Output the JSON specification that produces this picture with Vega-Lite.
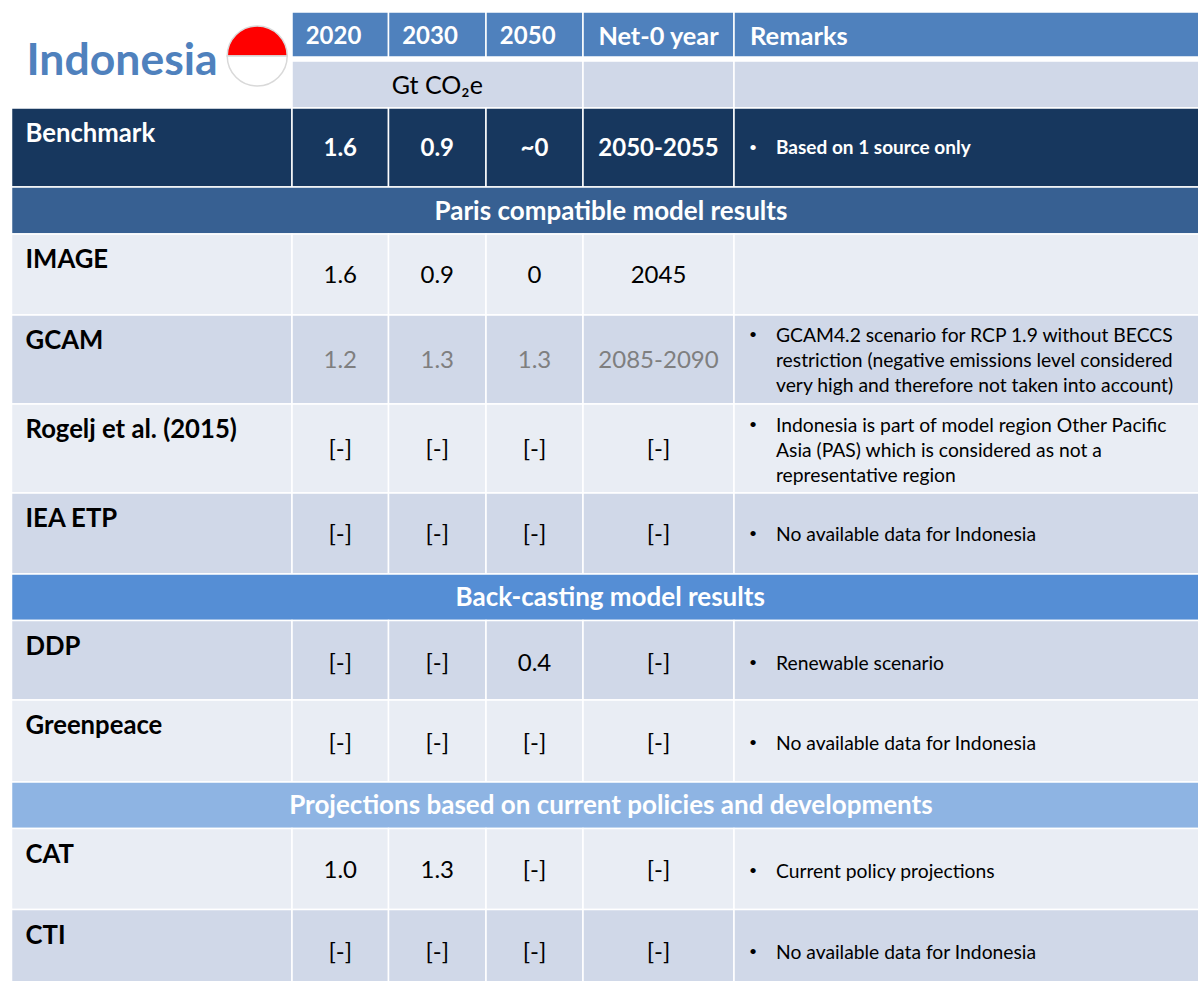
{
"$schema":"https://vega.github.io/schema/vega-lite/v6.json",
"width":1198,"height":981,"autosize":{"type":"none"},"padding":0,
"background":"white",
"config":{"view":{"stroke":null},"text":{"font":"Lato"}},
"datasets":{
"cells":[
{"row":0,"rowEnd":1,"col":1,"colEnd":2,"band":"header"},{"row":0,"rowEnd":1,"col":2,"colEnd":3,"band":"header"},{"row":0,"rowEnd":1,"col":3,"colEnd":4,"band":"header"},{"row":0,"rowEnd":1,"col":4,"colEnd":5,"band":"header"},{"row":0,"rowEnd":1,"col":5,"colEnd":6,"band":"header"},
{"row":2,"rowEnd":3,"col":1,"colEnd":4,"band":"dark"},{"row":2,"rowEnd":3,"col":4,"colEnd":5,"band":"dark"},{"row":2,"rowEnd":3,"col":5,"colEnd":6,"band":"dark"},
{"row":3,"rowEnd":4,"col":0,"colEnd":1,"band":"benchmark"},{"row":3,"rowEnd":4,"col":1,"colEnd":2,"band":"benchmark"},{"row":3,"rowEnd":4,"col":2,"colEnd":3,"band":"benchmark"},{"row":3,"rowEnd":4,"col":3,"colEnd":4,"band":"benchmark"},{"row":3,"rowEnd":4,"col":4,"colEnd":5,"band":"benchmark"},{"row":3,"rowEnd":4,"col":5,"colEnd":6,"band":"benchmark"},
{"row":4,"rowEnd":5,"col":0,"colEnd":6,"band":"paris"},
{"row":5,"rowEnd":6,"col":0,"colEnd":1,"band":"light"},{"row":5,"rowEnd":6,"col":1,"colEnd":2,"band":"light"},{"row":5,"rowEnd":6,"col":2,"colEnd":3,"band":"light"},{"row":5,"rowEnd":6,"col":3,"colEnd":4,"band":"light"},{"row":5,"rowEnd":6,"col":4,"colEnd":5,"band":"light"},{"row":5,"rowEnd":6,"col":5,"colEnd":6,"band":"light"},
{"row":6,"rowEnd":7,"col":0,"colEnd":1,"band":"dark"},{"row":6,"rowEnd":7,"col":1,"colEnd":2,"band":"dark"},{"row":6,"rowEnd":7,"col":2,"colEnd":3,"band":"dark"},{"row":6,"rowEnd":7,"col":3,"colEnd":4,"band":"dark"},{"row":6,"rowEnd":7,"col":4,"colEnd":5,"band":"dark"},{"row":6,"rowEnd":7,"col":5,"colEnd":6,"band":"dark"},
{"row":7,"rowEnd":8,"col":0,"colEnd":1,"band":"light"},{"row":7,"rowEnd":8,"col":1,"colEnd":2,"band":"light"},{"row":7,"rowEnd":8,"col":2,"colEnd":3,"band":"light"},{"row":7,"rowEnd":8,"col":3,"colEnd":4,"band":"light"},{"row":7,"rowEnd":8,"col":4,"colEnd":5,"band":"light"},{"row":7,"rowEnd":8,"col":5,"colEnd":6,"band":"light"},
{"row":8,"rowEnd":9,"col":0,"colEnd":1,"band":"dark"},{"row":8,"rowEnd":9,"col":1,"colEnd":2,"band":"dark"},{"row":8,"rowEnd":9,"col":2,"colEnd":3,"band":"dark"},{"row":8,"rowEnd":9,"col":3,"colEnd":4,"band":"dark"},{"row":8,"rowEnd":9,"col":4,"colEnd":5,"band":"dark"},{"row":8,"rowEnd":9,"col":5,"colEnd":6,"band":"dark"},
{"row":9,"rowEnd":10,"col":0,"colEnd":6,"band":"backcast"},
{"row":10,"rowEnd":11,"col":0,"colEnd":1,"band":"dark"},{"row":10,"rowEnd":11,"col":1,"colEnd":2,"band":"dark"},{"row":10,"rowEnd":11,"col":2,"colEnd":3,"band":"dark"},{"row":10,"rowEnd":11,"col":3,"colEnd":4,"band":"dark"},{"row":10,"rowEnd":11,"col":4,"colEnd":5,"band":"dark"},{"row":10,"rowEnd":11,"col":5,"colEnd":6,"band":"dark"},
{"row":11,"rowEnd":12,"col":0,"colEnd":1,"band":"light"},{"row":11,"rowEnd":12,"col":1,"colEnd":2,"band":"light"},{"row":11,"rowEnd":12,"col":2,"colEnd":3,"band":"light"},{"row":11,"rowEnd":12,"col":3,"colEnd":4,"band":"light"},{"row":11,"rowEnd":12,"col":4,"colEnd":5,"band":"light"},{"row":11,"rowEnd":12,"col":5,"colEnd":6,"band":"light"},
{"row":12,"rowEnd":13,"col":0,"colEnd":6,"band":"projection"},
{"row":13,"rowEnd":14,"col":0,"colEnd":1,"band":"light"},{"row":13,"rowEnd":14,"col":1,"colEnd":2,"band":"light"},{"row":13,"rowEnd":14,"col":2,"colEnd":3,"band":"light"},{"row":13,"rowEnd":14,"col":3,"colEnd":4,"band":"light"},{"row":13,"rowEnd":14,"col":4,"colEnd":5,"band":"light"},{"row":13,"rowEnd":14,"col":5,"colEnd":6,"band":"light"},
{"row":14,"rowEnd":15,"col":0,"colEnd":1,"band":"dark"},{"row":14,"rowEnd":15,"col":1,"colEnd":2,"band":"dark"},{"row":14,"rowEnd":15,"col":2,"colEnd":3,"band":"dark"},{"row":14,"rowEnd":15,"col":3,"colEnd":4,"band":"dark"},{"row":14,"rowEnd":15,"col":4,"colEnd":5,"band":"dark"},{"row":14,"rowEnd":15,"col":5,"colEnd":6,"band":"dark"}
],
"flag":[{"col":0.876,"row":0.978,"band":"flag red","share":1},{"col":0.876,"row":0.978,"band":"flag white","share":1}],
"title":[{"col":0,"row":1,"label":"Indonesia"}],
"years":[
{"col":1.43,"row":0.5,"label":"2020"},{"col":2.426,"row":0.5,"label":"2030"},{"col":3.43,"row":0.5,"label":"2050"}
],
"netZero":[{"col":4.5,"row":0.5,"label":"Net-0 year"}],
"sections":[
{"col":4.185,"row":4.5,"label":"Paris compatible model results"},
{"col":4.18,"row":9.5,"label":"Back-casting model results"},
{"col":4.185,"row":12.5,"label":"Projections based on current policies and developments"}
],
"remarksHead":[{"col":5,"row":0.5,"label":"Remarks"}],
"unit":[{"col":2.5,"row":2.5,"label":"Gt CO₂e"}],
"rowLabels":[
{"col":0,"row":3,"label":"Benchmark","band":"on dark"},{"col":0,"row":5,"label":"IMAGE","band":"normal"},{"col":0,"row":6,"label":"GCAM","band":"normal"},{"col":0,"row":7,"label":"Rogelj et al. (2015)","band":"normal"},{"col":0,"row":8,"label":"IEA ETP","band":"normal"},{"col":0,"row":10,"label":"DDP","band":"normal"},{"col":0,"row":11,"label":"Greenpeace","band":"normal"},{"col":0,"row":13,"label":"CAT","band":"normal"},{"col":0,"row":14,"label":"CTI","band":"normal"}
],
"benchmarkValues":[
{"col":1.5,"row":3.5,"label":"1.6"},{"col":2.5,"row":3.5,"label":"0.9"},{"col":3.5,"row":3.5,"label":"~0"},{"col":4.5,"row":3.5,"label":"2050-2055"}
],
"values":[
{"col":1.5,"row":5.5,"label":"1.6","band":"normal"},{"col":2.5,"row":5.5,"label":"0.9","band":"normal"},{"col":3.5,"row":5.5,"label":"0","band":"normal"},{"col":4.5,"row":5.5,"label":"2045","band":"normal"},
{"col":1.5,"row":6.5,"label":"1.2","band":"excluded"},{"col":2.5,"row":6.5,"label":"1.3","band":"excluded"},{"col":3.5,"row":6.5,"label":"1.3","band":"excluded"},{"col":4.5,"row":6.5,"label":"2085-2090","band":"excluded"},
{"col":1.5,"row":7.51,"label":"[-]","band":"normal"},{"col":2.5,"row":7.51,"label":"[-]","band":"normal"},{"col":3.5,"row":7.51,"label":"[-]","band":"normal"},{"col":4.5,"row":7.51,"label":"[-]","band":"normal"},
{"col":1.5,"row":8.51,"label":"[-]","band":"normal"},{"col":2.5,"row":8.51,"label":"[-]","band":"normal"},{"col":3.5,"row":8.51,"label":"[-]","band":"normal"},{"col":4.5,"row":8.51,"label":"[-]","band":"normal"},
{"col":1.5,"row":10.53,"label":"[-]","band":"normal"},{"col":2.5,"row":10.53,"label":"[-]","band":"normal"},{"col":3.5,"row":10.53,"label":"0.4","band":"normal"},{"col":4.5,"row":10.53,"label":"[-]","band":"normal"},
{"col":1.5,"row":11.525,"label":"[-]","band":"normal"},{"col":2.5,"row":11.525,"label":"[-]","band":"normal"},{"col":3.5,"row":11.525,"label":"[-]","band":"normal"},{"col":4.5,"row":11.525,"label":"[-]","band":"normal"},
{"col":1.5,"row":13.51,"label":"1.0","band":"normal"},{"col":2.5,"row":13.51,"label":"1.3","band":"normal"},{"col":3.5,"row":13.51,"label":"[-]","band":"normal"},{"col":4.5,"row":13.51,"label":"[-]","band":"normal"},
{"col":1.5,"row":14.5,"label":"[-]","band":"normal"},{"col":2.5,"row":14.5,"label":"[-]","band":"normal"},{"col":3.5,"row":14.5,"label":"[-]","band":"normal"},{"col":4.5,"row":14.5,"label":"[-]","band":"normal"}
],
"benchmarkRemark":[{"col":5,"row":3.5,"label":"Based on 1 source only","first":true}],
"remarks":[
{"col":5,"row":6.225,"label":"GCAM4.2 scenario for RCP 1.9 without BECCS","first":true},
{"col":5,"row":6.5,"label":"restriction (negative emissions level considered","first":false},
{"col":5,"row":6.787,"label":"very high and therefore not taken into account)","first":false},
{"col":5,"row":7.236,"label":"Indonesia is part of model region Other Pacific","first":true},
{"col":5,"row":7.517,"label":"Asia (PAS) which is considered as not a","first":false},
{"col":5,"row":7.798,"label":"representative region","first":false},
{"col":5,"row":8.5,"label":"No available data for Indonesia","first":true},
{"col":5,"row":10.53,"label":"Renewable scenario","first":true},
{"col":5,"row":11.525,"label":"No available data for Indonesia","first":true},
{"col":5,"row":13.52,"label":"Current policy projections","first":true},
{"col":5,"row":14.5,"label":"No available data for Indonesia","first":true}
]
},
"encoding":{
"x":{"field":"col","type":"quantitative","axis":null,"scale":{"domain":[0,1,2,3,4,5,6],"range":[11.5,292,388.5,486,583,734,1200],"nice":false,"zero":false}},
"y":{"field":"row","type":"quantitative","axis":null,"scale":{"domain":[0,1,2,3,4,5,6,7,8,9,10,11,12,13,14,15],"range":[12,57,61,108,187,234,315,404,493,574,620.5,700,782,828.5,909.5,994],"nice":false,"zero":false}},
"fill":{"field":"band","type":"nominal","legend":null,"scale":{"domain":["header","dark","light","benchmark","paris","backcast","projection","flag red","flag white","on dark","normal","excluded"],"range":["#4F81BD","#D0D8E8","#E9EDF4","#17375E","#376092","#558ED5","#8EB4E3","#FF0000","#FFFFFF","#FFFFFF","#000000","#7F7F7F"]}}
},
"layer":[
{"data":{"name":"cells"},"mark":{"type":"rect","stroke":"white","strokeWidth":1.5},
 "encoding":{"x2":{"field":"colEnd"},"y2":{"field":"rowEnd"}}},
{"data":{"name":"flag"},"mark":{"type":"arc","outerRadius":30,"stroke":"#D9D9D9","strokeWidth":1.5},
 "encoding":{"theta":{"field":"share","type":"quantitative","scale":{"range":[-1.5708,4.7124]}},
 "order":{"field":"band","type":"nominal"}}},
{"data":{"name":"title"},"mark":{"type":"text","font":"Lato","fontWeight":"bold","fontSize":44.5,"align":"left","baseline":"middle","dx":15,"dy":5},"encoding":{"text":{"field":"label"},"fill":{"value":"#4F81BD"}}},
{"data":{"name":"years"},"mark":{"type":"text","font":"Lato","fontWeight":"bold","fontSize":24,"align":"center","baseline":"middle","dy":2},"encoding":{"text":{"field":"label"},"fill":{"value":"white"}}},
{"data":{"name":"netZero"},"mark":{"type":"text","font":"Lato","fontWeight":"bold","fontSize":25.3,"align":"center","baseline":"middle","dy":2},"encoding":{"text":{"field":"label"},"fill":{"value":"white"}}},
{"data":{"name":"sections"},"mark":{"type":"text","font":"Lato","fontWeight":"bold","fontSize":26,"align":"center","baseline":"middle","dy":1},"encoding":{"text":{"field":"label"},"fill":{"value":"white"}}},
{"data":{"name":"remarksHead"},"mark":{"type":"text","font":"Lato","fontWeight":"bold","fontSize":25.5,"align":"left","baseline":"middle","dx":16,"dy":2},"encoding":{"text":{"field":"label"},"fill":{"value":"white"}}},
{"data":{"name":"unit"},"mark":{"type":"text","font":"Lato","fontSize":25,"align":"center","baseline":"middle","dy":1},"encoding":{"text":{"field":"label"},"fill":{"value":"black"}}},
{"data":{"name":"rowLabels"},"mark":{"type":"text","font":"Lato","fontWeight":"bold","fontSize":25.7,"align":"left","baseline":"middle","dx":14,"dy":26},
 "encoding":{"text":{"field":"label"}}},
{"data":{"name":"benchmarkValues"},"mark":{"type":"text","font":"Lato","fontWeight":"bold","fontSize":24,"align":"center","baseline":"middle","dy":1},"encoding":{"text":{"field":"label"},"fill":{"value":"white"}}},
{"data":{"name":"values"},"mark":{"type":"text","font":"Lato","fontSize":24,"align":"center","baseline":"middle","dy":1},
 "encoding":{"text":{"field":"label"}}},
{"data":{"name":"benchmarkRemark"},"mark":{"type":"text","font":"Lato","fontWeight":"bold","fontSize":19,"align":"left","baseline":"middle","dx":42},"encoding":{"text":{"field":"label"},"fill":{"value":"white"}}},
{"data":{"name":"benchmarkRemark"},"mark":{"type":"text","font":"Lato","fontSize":14,"align":"left","baseline":"middle","dx":15},"encoding":{"text":{"value":"•"},"fill":{"value":"white"}}},
{"data":{"name":"remarks"},"mark":{"type":"text","font":"Lato","fontSize":19.3,"align":"left","baseline":"middle","dx":42,"dy":1},"encoding":{"text":{"field":"label"},"fill":{"value":"black"}}},
{"data":{"name":"remarks"},"transform":[{"filter":"datum.first"}],"mark":{"type":"text","font":"Lato","fontSize":14,"align":"left","baseline":"middle","dx":15},"encoding":{"text":{"value":"•"},"fill":{"value":"black"}}}
]
}
